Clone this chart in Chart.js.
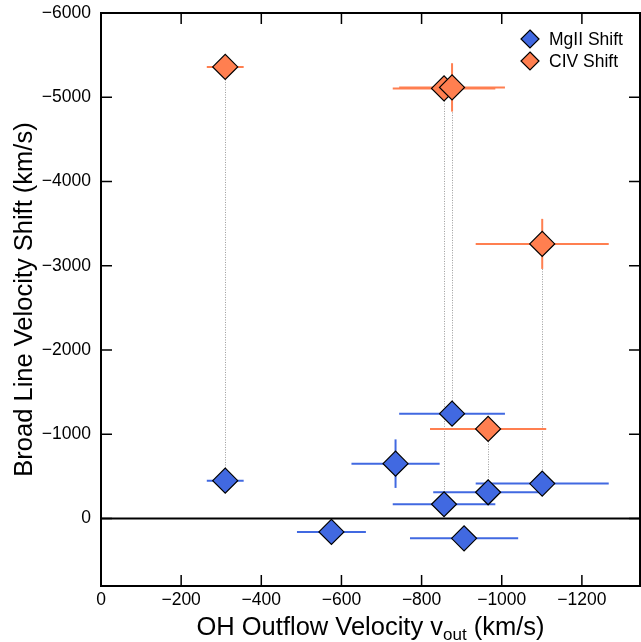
<!DOCTYPE html>
<html>
<head>
<meta charset="utf-8">
<script src="https://cdn.jsdelivr.net/npm/chart.js@4/dist/chart.umd.min.js"></script>
<style>
  body { margin: 0; background: #fff; }
  canvas { display: block; }
</style>
</head>
<body>
<canvas id="chart" width="641" height="642" style="width:641px;height:642px"></canvas>
<script>
// MgII (azul) - velocidade do outflow OH e deslocamento da linha larga
const mgX = [-310, -735, -876, -856, -966, -1101, -906, -575];
const mgY = [-450, -652, -1245, -170, -312, -415, 234, 158];
const mgXErr = [46, 110, 132, 128, 137, 166, 135, 86];
const mgYErr = [0, 288, 0, 0, 0, 0, 0, 0];

// CIV (laranja)
const civX = [-310, -856, -876, -1101, -966];
const civY = [-5360, -5105, -5117, -3260, -1064];
const civXErr = [46, 128, 132, 166, 145];
const civYErr = [0, 0, 287, 297, 0];

const seriesLabels = ['MgII Shift', 'CIV Shift'];
const xTicks = [0, -200, -400, -600, -800, -1000, -1200];
const yTicks = [-6000, -5000, -4000, -3000, -2000, -1000, 0];

const BLUE = '#4169E1';
const ORANGE = '#FF7F50';
const FONT = "'Liberation Sans', Arial, Helvetica, sans-serif";

function fmt(v) {
  return v < 0 ? '\u2212' + Math.abs(v) : String(v);
}

// Barras de erro
function drawErrors(ctx, xs, ys, xe, ye, color, sx, sy) {
  ctx.strokeStyle = color;
  ctx.lineWidth = 2;
  xs.forEach((xv, i) => {
    const px = sx.getPixelForValue(xv);
    const py = sy.getPixelForValue(ys[i]);
    if (xe[i]) {
      ctx.beginPath();
      ctx.moveTo(sx.getPixelForValue(xv - xe[i]), py);
      ctx.lineTo(sx.getPixelForValue(xv + xe[i]), py);
      ctx.stroke();
    }
    if (ye[i]) {
      ctx.beginPath();
      ctx.moveTo(px, sy.getPixelForValue(ys[i] - ye[i]));
      ctx.lineTo(px, sy.getPixelForValue(ys[i] + ye[i]));
      ctx.stroke();
    }
  });
}

function diamond(ctx, x, y, r, fill) {
  ctx.beginPath();
  ctx.moveTo(x, y - r);
  ctx.lineTo(x + r, y);
  ctx.lineTo(x, y + r);
  ctx.lineTo(x - r, y);
  ctx.closePath();
  ctx.fillStyle = fill;
  ctx.fill();
  ctx.strokeStyle = '#000';
  ctx.lineWidth = 1.2;
  ctx.stroke();
}

const decor = {
  id: 'decor',
  beforeDatasetsDraw(chart) {
    const { ctx, chartArea: a, scales: { x, y } } = chart;
    ctx.save();
    ctx.beginPath();
    ctx.rect(a.left, a.top, a.right - a.left, a.bottom - a.top);
    ctx.clip();

    // Linhas pontilhadas ligando CIV e MgII
    ctx.strokeStyle = '#9a9a9a';
    ctx.lineWidth = 1;
    ctx.setLineDash([1, 1.5]);
    civX.forEach((cx, i) => {
      const j = mgX.indexOf(cx);
      if (j < 0) return;
      const px = Math.round(x.getPixelForValue(cx)) + 0.5;
      ctx.beginPath();
      ctx.moveTo(px, y.getPixelForValue(civY[i]));
      ctx.lineTo(px, y.getPixelForValue(mgY[j]));
      ctx.stroke();
    });
    ctx.setLineDash([]);

    // Linha do zero
    ctx.strokeStyle = '#000';
    ctx.lineWidth = 2;
    ctx.beginPath();
    ctx.moveTo(a.left, y.getPixelForValue(0));
    ctx.lineTo(a.right, y.getPixelForValue(0));
    ctx.stroke();

    drawErrors(ctx, civX, civY, civXErr, civYErr, ORANGE, x, y);
    drawErrors(ctx, mgX, mgY, mgXErr, mgYErr, BLUE, x, y);
    ctx.restore();
  },
  afterDraw(chart) {
    const { ctx, chartArea: a, scales: { x, y } } = chart;
    ctx.save();

    // Moldura
    ctx.strokeStyle = '#000';
    ctx.lineWidth = 2;
    ctx.strokeRect(a.left, a.top, a.right - a.left, a.bottom - a.top);

    // Ticks para dentro nos quatro lados
    const tl = 11;
    ctx.lineWidth = 1.5;
    ctx.beginPath();
    xTicks.forEach(v => {
      const px = x.getPixelForValue(v);
      if (px <= a.left + 1 || px >= a.right - 1) return;
      ctx.moveTo(px, a.bottom); ctx.lineTo(px, a.bottom - tl);
      ctx.moveTo(px, a.top); ctx.lineTo(px, a.top + tl);
    });
    yTicks.forEach(v => {
      const py = y.getPixelForValue(v);
      if (py <= a.top + 1 || py >= a.bottom - 1) return;
      ctx.moveTo(a.left, py); ctx.lineTo(a.left + tl, py);
      ctx.moveTo(a.right, py); ctx.lineTo(a.right - tl, py);
    });
    ctx.stroke();

    // Legenda dentro do gráfico
    const colors = [BLUE, ORANGE];
    ctx.font = '17.5px ' + FONT;
    ctx.textBaseline = 'middle';
    ctx.textAlign = 'left';
    seriesLabels.forEach((lbl, i) => {
      const ly = a.top + 26 + i * 22;
      diamond(ctx, a.right - 110, ly, 9, colors[i]);
      ctx.fillStyle = '#000';
      ctx.fillText(lbl, a.right - 91, ly + 1);
    });

    // Título do eixo X (com subscrito)
    ctx.fillStyle = '#000';
    ctx.textBaseline = 'alphabetic';
    const big = '25.5px ' + FONT;
    const small = '17px ' + FONT;
    const p1 = 'OH Outflow Velocity v';
    const p2 = 'out';
    const p3 = ' (km/s)';
    ctx.font = big;
    const w1 = ctx.measureText(p1).width;
    const w3 = ctx.measureText(p3).width;
    ctx.font = small;
    const w2 = ctx.measureText(p2).width;
    let tx = (a.left + a.right) / 2 - (w1 + w2 + w3) / 2;
    const ty = 635;
    ctx.font = big;
    ctx.fillText(p1, tx, ty);
    tx += w1;
    ctx.font = small;
    ctx.fillText(p2, tx, ty + 5);
    tx += w2;
    ctx.font = big;
    ctx.fillText(p3, tx, ty);

    // Título do eixo Y
    ctx.translate(32, (a.top + a.bottom) / 2);
    ctx.rotate(-Math.PI / 2);
    ctx.textAlign = 'center';
    ctx.fillText('Broad Line Velocity Shift (km/s)', 0, 0);
    ctx.restore();
  }
};

const tickFont = { family: FONT, size: 17.5 };

new Chart(document.getElementById('chart'), {
  type: 'scatter',
  data: {
    datasets: [
      {
        label: seriesLabels[0],
        data: mgX.map((v, i) => ({ x: v, y: mgY[i] })),
        backgroundColor: BLUE,
        borderColor: '#000',
        borderWidth: 1.2,
        pointStyle: 'rectRot',
        pointRadius: 12.5,
        pointHoverRadius: 12.5
      },
      {
        label: seriesLabels[1],
        data: civX.map((v, i) => ({ x: v, y: civY[i] })),
        backgroundColor: ORANGE,
        borderColor: '#000',
        borderWidth: 1.2,
        pointStyle: 'rectRot',
        pointRadius: 12.5,
        pointHoverRadius: 12.5
      }
    ]
  },
  options: {
    responsive: false,
    animation: false,
    layout: { autoPadding: false, padding: { top: 13, right: 1, left: 0, bottom: 0 } },
    plugins: {
      legend: { display: false },
      tooltip: { enabled: false }
    },
    scales: {
      x: {
        type: 'linear',
        reverse: true,
        min: -1345,
        max: 0,
        afterFit: s => { s.height = 56; s.paddingLeft = 0; s.paddingRight = 0; },
        afterBuildTicks: s => { s.ticks = xTicks.map(v => ({ value: v })); },
        grid: { display: false, drawTicks: false },
        border: { display: false },
        ticks: {
          font: tickFont,
          color: '#000',
          padding: 4,
          maxRotation: 0,
          autoSkip: false,
          callback: v => fmt(v)
        }
      },
      y: {
        type: 'linear',
        reverse: true,
        min: -6000,
        max: 800,
        afterFit: s => { s.width = 101; s.paddingTop = 0; s.paddingBottom = 0; },
        afterBuildTicks: s => { s.ticks = yTicks.map(v => ({ value: v })); },
        grid: { display: false, drawTicks: false },
        border: { display: false },
        ticks: {
          font: tickFont,
          color: '#000',
          padding: 10,
          autoSkip: false,
          callback: v => fmt(v)
        }
      }
    }
  },
  plugins: [decor]
});
</script>
</body>
</html>
